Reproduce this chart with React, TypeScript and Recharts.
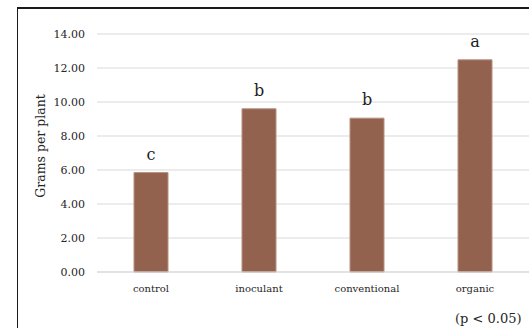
import React from "react";
import { BarChart, Bar, XAxis, YAxis, CartesianGrid, LabelList } from "recharts";

const categories = ["control", "inoculant", "conventional", "organic"];
const gramsPerPlant = [5.85, 9.6, 9.05, 12.48];
const groupLetters = ["c", "b", "b", "a"];
const yTicks = [0, 2, 4, 6, 8, 10, 12, 14];

const data = categories.map((name, i) => ({
  name,
  value: gramsPerPlant[i],
  letter: groupLetters[i],
}));

const FONT = "'DejaVu Serif', serif";

const YLabel = (props: any) => {
  const vb = props.viewBox || {};
  const cx = 40;
  const cy = vb.y + vb.height / 2 - 7;
  return (
    <text
      x={cx}
      y={cy}
      transform={`rotate(-90, ${cx}, ${cy})`}
      textAnchor="middle"
      dominantBaseline="central"
      fontFamily={FONT}
      fontSize={12.5}
      fill="#262626"
    >
      Grams per plant
    </text>
  );
};

export default function App() {
  return (
    <div
      style={{
        position: "fixed",
        left: 0,
        top: 0,
        width: 529,
        height: 328,
        overflow: "hidden",
        background: "#fff",
      }}
    >
      <BarChart
        width={560}
        height={328}
        data={data}
        margin={{ top: 34, right: 31, bottom: 0, left: 0 }}
      >
        <CartesianGrid vertical={false} stroke="#d9d9d9" />
        <XAxis
          dataKey="name"
          height={56}
          axisLine={{ stroke: "#d9d9d9" }}
          tickLine={false}
          tickMargin={7}
          tick={{ fontFamily: FONT, fontSize: 10, fill: "#262626" }}
        />
        <YAxis
          width={97}
          domain={[0, 14]}
          ticks={yTicks}
          interval={0}
          axisLine={false}
          tickLine={false}
          tickMargin={6}
          tickFormatter={(v: number) => v.toFixed(2)}
          tick={{ fontFamily: FONT, fontSize: 11, fill: "#262626" }}
          label={<YLabel />}
        />
        <Bar
          dataKey="value"
          fill="#93624F"
          stroke="#b89080"
          strokeWidth={1}
          barSize={34}
          isAnimationActive={false}
        >
          <LabelList
            dataKey="letter"
            position="top"
            offset={13}
            style={{ fontFamily: FONT, fontSize: 16, fill: "#1e1e1e", stroke: "none" }}
          />
        </Bar>
      </BarChart>
      {/* outer frame: only its top and left edges fall inside the view */}
      <div
        style={{
          position: "absolute",
          left: 17,
          top: 7,
          width: 600,
          height: 400,
          borderTop: "2px solid #1a1a1a",
          borderLeft: "1px solid #1a1a1a",
          boxSizing: "border-box",
          pointerEvents: "none",
        }}
      />
      <div
        style={{
          position: "absolute",
          left: 455,
          top: 311,
          fontFamily: FONT,
          fontSize: 13,
          color: "#262626",
          whiteSpace: "nowrap",
          lineHeight: "16px",
        }}
      >
        (p &lt; 0.05)
      </div>
    </div>
  );
}
